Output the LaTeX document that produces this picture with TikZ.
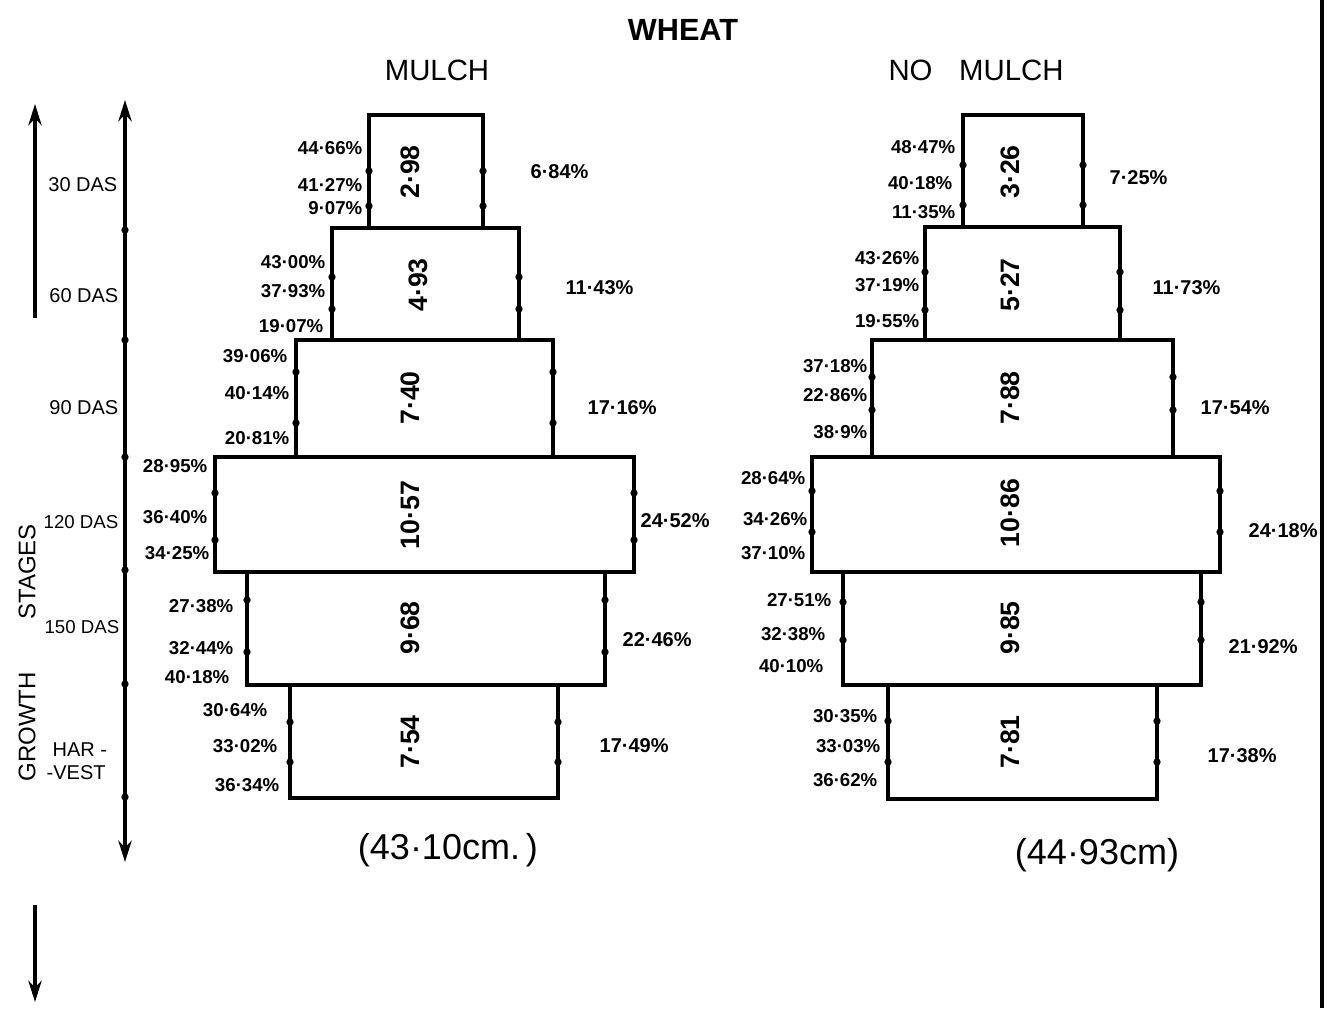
\documentclass[tikz,border=0pt]{standalone}
\usepackage{fontspec}
\setmainfont{Liberation Sans}
\usetikzlibrary{arrows.meta}
\begin{document}
\begin{tikzpicture}[x=0.75pt,y=-0.75pt,line width=2pt,
  boxline/.style={line width=2.5pt},
  dotm/.style={circle,fill,inner sep=0pt,minimum size=5.5pt},
  pct/.style={font=\fontsize{14}{14}\selectfont\bfseries,anchor=east,inner sep=1pt},
  rpct/.style={font=\fontsize{15}{15}\selectfont\bfseries,anchor=west,inner sep=1pt},
  val/.style={rotate=90,font=\fontsize{20}{20}\selectfont\bfseries,inner sep=0pt},
  stage/.style={font=\fontsize{15}{15}\selectfont,anchor=east,inner sep=1pt},
  stagesm/.style={stage,font=\fontsize{14}{14}\selectfont},
  head/.style={font=\fontsize{22}{22}\selectfont},
  axis/.style={line width=2.6pt},
  tip/.style={-{Stealth[length=16pt,width=10pt]}}]
\useasboundingbox (0,0) rectangle (1332,1008);
\fill[white] (0,0) rectangle (1332,1008);

% titles
\node[font=\fontsize{23}{23}\selectfont\bfseries] (wheat) at (683,30) {WHEAT};
\node[head] (mulch) at (437,70) {MULCH};
\node[head] (nomulch) at (976,70) {NO\hspace{20pt}MULCH};

% boxes
\foreach \n/\xa/\ya/\xb/\yb/\da/\db in {
  L1/369/115/483/228/171/206, L2/332/228/519/340/277/309,
  L3/296/340/553/457/372/423, L4/215/457/634/572/493/540,
  L5/247/572/605/685/600/652, L6/290/685/558/798/722/762,
  R1/963/115/1083/227/165/205, R2/925/227/1120/340/272/310,
  R3/872/340/1173/457/377/410, R4/812/457/1220/572/491/532,
  R5/843/572/1201/685/602/640, R6/888/685/1157/799/721/762}{
  \draw[boxline] (\xa,\ya) rectangle (\xb,\yb);
  \node[dotm] (\n-la) at (\xa,\da) {};
  \node[dotm] (\n-lb) at (\xa,\db) {};
  \node[dotm] (\n-ra) at (\xb,\da) {};
  \node[dotm] (\n-rb) at (\xb,\db) {};
}

% values inside boxes
\foreach \n/\x/\y/\t in {L1v/410/172/2·98, L2v/418/285/4·93, L3v/410/398/7·40,
  L4v/410/515/10·57, L5v/410/628/9·68, L6v/410/742/7·54,
  R1v/1010/172/3·26, R2v/1010/285/5·27, R3v/1010/398/7·88,
  R4v/1010/513/10·86, R5v/1010/628/9·85, R6v/1010/742/7·81}{
  \node[val] (\n) at (\x,\y) {\t};
}

% left-side percentages
\foreach \n/\x/\y/\t in {
  L1a/365/148/44·66\%, L1b/365/185/41·27\%, L1c/365/208/9·07\%,
  L2a/328/262/43·00\%, L2b/328/291/37·93\%, L2c/326/326/19·07\%,
  L3a/290/356/39·06\%, L3b/292/393/40·14\%, L3c/292/438/20·81\%,
  L4a/210/466/28·95\%, L4b/210/517/36·40\%, L4c/212/553/34·25\%,
  L5a/236/606/27·38\%, L5b/236/648/32·44\%, L5c/232/677/40·18\%,
  L6a/270/710/30·64\%, L6b/280/746/33·02\%, L6c/282/785/36·34\%,
  R1a/958/147/48·47\%, R1b/955/183/40·18\%, R1c/958/212/11·35\%,
  R2a/922/258/43·26\%, R2b/922/285/37·19\%, R2c/922/321/19·55\%,
  R3a/870/366/37·18\%, R3b/870/395/22·86\%, R3c/870/432/38·9\%,
  R4a/808/478/28·64\%, R4b/810/519/34·26\%, R4c/808/553/37·10\%,
  R5a/834/600/27·51\%, R5b/828/634/32·38\%, R5c/826/666/40·10\%,
  R6a/880/716/30·35\%, R6b/883/746/33·03\%, R6c/880/780/36·62\%}{
  \node[pct] (\n) at (\x,\y) {\t};
}

% right-side percentages
\foreach \n/\x/\y/\t in {
  L1s/528/172/6·84\%, L2s/563/288/11·43\%, L3s/585/408/17·16\%,
  L4s/638/521/24·52\%, L5s/620/640/22·46\%, L6s/597/746/17·49\%,
  R1s/1107/178/7·25\%, R2s/1150/288/11·73\%, R3s/1198/408/17·54\%,
  R4s/1246/531/24·18\%, R5s/1226/647/21·92\%, R6s/1205/756/17·38\%}{
  \node[rpct] (\n) at (\x,\y) {\t};
}

% totals
\node[font=\fontsize{27}{27}\selectfont] (totL) at (448,850) {(43·10cm.\,)};
\node[font=\fontsize{27}{27}\selectfont] (totR) at (1097,855) {(44·93cm)};

% inner axis
\coordinate (axT) at (125,100);
\coordinate (axB) at (125,862);
\coordinate (axM) at (125,500);
\draw[axis,tip] (axM) -- (axT);
\draw[axis,tip] (axM) -- (axB);
\foreach \n/\y in {t1/230,t2/340,t3/457,t4/570,t5/684,t6/797}{
  \node[dotm] (\n) at (125,\y) {};
}

% outer axis arrows
\coordinate (oA) at (35,318);
\coordinate (oAt) at (35,104);
\draw[axis,tip] (oA) -- (oAt);
\coordinate (oB) at (35,905);
\coordinate (oBt) at (35,1002);
\draw[axis,tip] (oB) -- (oBt);

\node[rotate=90,font=\fontsize{18}{18}\selectfont] (growth) at (27,727) {GROWTH};
\node[rotate=90,font=\fontsize{18}{18}\selectfont] (stages) at (27,572) {STAGES};

% stage labels
\node[stage] (s30) at (120,185) {30 DAS};
\node[stage] (s60) at (121,296) {60 DAS};
\node[stage] (s90) at (121,408) {90 DAS};
\node[stagesm] (s120) at (121,522) {120 DAS};
\node[stagesm] (s150) at (122,627) {150 DAS};
\node[stage,anchor=west] (shar) at (50,750) {HAR -};
\node[stage,anchor=west] (svest) at (44,773) {-VEST};

% right border
\coordinate (bT) at (1322,0);
\coordinate (bB) at (1322,1008);
\draw[line width=2.6pt] (bT) -- (bB);
\end{tikzpicture}
\end{document}
